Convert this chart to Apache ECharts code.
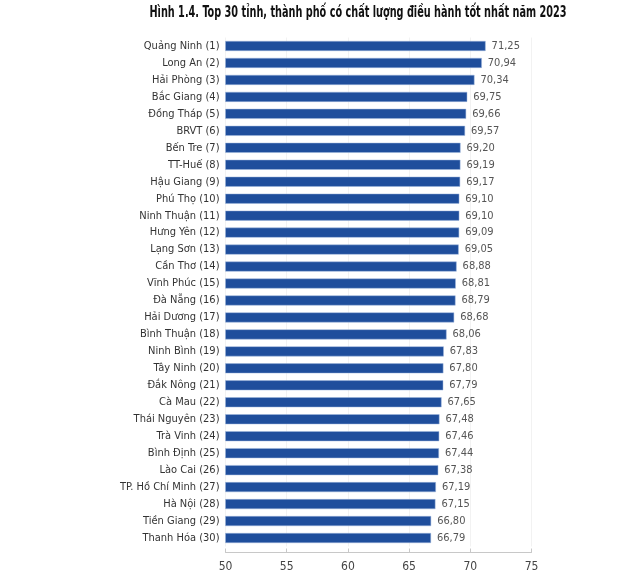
<!DOCTYPE html>
<html>
<head>
<meta charset="utf-8">
<script src="https://cdn.jsdelivr.net/npm/echarts@6/dist/echarts.min.js"></script>
<style>
html,body{margin:0;padding:0;background:#fff;}
#c{width:640px;height:582px;}
</style>
</head>
<body>
<div id="c"></div>
<script>
const titleText = "Hình 1.4. Top 30 tỉnh, thành phố có chất lượng điều hành tốt nhất năm 2023";
const provinces = ["Quảng Ninh","Long An","Hải Phòng","Bắc Giang","Đồng Tháp","BRVT","Bến Tre","TT-Huế","Hậu Giang","Phú Thọ","Ninh Thuận","Hưng Yên","Lạng Sơn","Cần Thơ","Vĩnh Phúc","Đà Nẵng","Hải Dương","Bình Thuận","Ninh Bình","Tây Ninh","Đắk Nông","Cà Mau","Thái Nguyên","Trà Vinh","Bình Định","Lào Cai","TP. Hồ Chí Minh","Hà Nội","Tiền Giang","Thanh Hóa"];
const ranks = [1,2,3,4,5,6,7,8,9,10,11,12,13,14,15,16,17,18,19,20,21,22,23,24,25,26,27,28,29,30];
const scores = [71.25,70.94,70.34,69.75,69.66,69.57,69.20,69.19,69.17,69.10,69.10,69.09,69.05,68.88,68.81,68.79,68.68,68.06,67.83,67.80,67.79,67.65,67.48,67.46,67.44,67.38,67.19,67.15,66.80,66.79];
const xTicks = [50,55,60,65,70,75];

const categories = provinces.map((p,i)=>p+" ("+ranks[i]+")");
const FONT = "'DejaVu Sans Condensed',Roboto,sans-serif";

const chart = echarts.init(document.getElementById('c'), null, {renderer:'canvas'});
chart.setOption({
  animation:false,
  backgroundColor:'#ffffff',
  graphic:[{
    type:'text', x:358, y:13, scaleX:0.72,
    style:{text:titleText, textAlign:'center', textVerticalAlign:'middle',
      font:"bold 15px 'DejaVu Sans Condensed', sans-serif", fill:'#111'}
  }],
  grid:{left:225.5, right:108.5, top:37.5, height:509, containLabel:false},
  xAxis:{
    type:'value', min:xTicks[0], max:xTicks[xTicks.length-1], interval:5,
    offset:6,
    axisLine:{show:true, lineStyle:{color:'#c8c8c8'}},
    axisTick:{show:true, inside:true, length:4, lineStyle:{color:'#c8c8c8'}},
    splitLine:{show:true, lineStyle:{color:'#f2f2f2'}},
    axisLabel:{fontFamily:FONT, fontSize:12, color:'#444', margin:8}
  },
  yAxis:{
    type:'category', data:categories, inverse:true,
    axisLine:{show:false}, axisTick:{show:false},
    axisLabel:{fontFamily:FONT, fontSize:11, color:'#333', margin:6}
  },
  series:[{
    type:'bar', data:scores, barWidth:10,
    itemStyle:{color:'#1f4e9c', borderColor:'#9fb6dc', borderWidth:0.5},
    label:{show:true, position:'right', distance:6, fontFamily:FONT, fontSize:11, color:'#555',
      formatter:p=>p.value.toFixed(2).replace('.',',')}
  }]
});
</script>
</body>
</html>
